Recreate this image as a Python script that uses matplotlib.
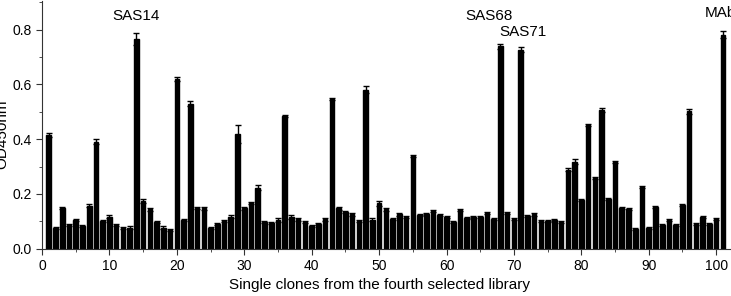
import matplotlib
matplotlib.use("Agg")
import matplotlib.pyplot as plt
import numpy as np
from matplotlib.ticker import MultipleLocator

plt.rcParams['font.family'] = ['Liberation Sans', 'DejaVu Sans']

clones = list(range(1, 102))
od450 = [0.415, 0.075, 0.147, 0.086, 0.105, 0.084, 0.157, 0.39, 0.10, 0.117,
         0.086, 0.075, 0.077, 0.765, 0.174, 0.143, 0.098, 0.077, 0.069, 0.62,
         0.105, 0.53, 0.147, 0.147, 0.074, 0.089, 0.10, 0.117, 0.418, 0.147,
         0.168, 0.222, 0.098, 0.095, 0.105, 0.485, 0.117, 0.107, 0.098, 0.083,
         0.089, 0.107, 0.548, 0.147, 0.133, 0.125, 0.10, 0.581, 0.106, 0.165,
         0.143, 0.108, 0.125, 0.117, 0.339, 0.123, 0.126, 0.137, 0.123, 0.117,
         0.097, 0.141, 0.113, 0.117, 0.117, 0.129, 0.108, 0.739, 0.129, 0.107,
         0.727, 0.119, 0.125, 0.102, 0.102, 0.105, 0.097, 0.289, 0.317, 0.177,
         0.453, 0.259, 0.506, 0.18, 0.317, 0.147, 0.145, 0.073, 0.224, 0.074,
         0.153, 0.086, 0.105, 0.086, 0.159, 0.502, 0.089, 0.117, 0.089, 0.108,
         0.782]
errors = [0.007, 0.004, 0.004, 0.004, 0.005, 0.004, 0.006, 0.009, 0.004, 0.005,
          0.004, 0.004, 0.004, 0.022, 0.007, 0.006, 0.004, 0.004, 0.004, 0.007,
          0.004, 0.008, 0.004, 0.005, 0.004, 0.004, 0.004, 0.005, 0.032, 0.005,
          0.004, 0.009, 0.004, 0.004, 0.006, 0.004, 0.007, 0.006, 0.004, 0.004,
          0.004, 0.006, 0.004, 0.006, 0.004, 0.004, 0.004, 0.012, 0.006, 0.009,
          0.006, 0.004, 0.004, 0.004, 0.004, 0.004, 0.004, 0.004, 0.004, 0.004,
          0.004, 0.004, 0.004, 0.004, 0.004, 0.004, 0.004, 0.009, 0.004, 0.004,
          0.009, 0.004, 0.004, 0.004, 0.004, 0.004, 0.004, 0.006, 0.009, 0.004,
          0.004, 0.004, 0.008, 0.004, 0.004, 0.004, 0.004, 0.004, 0.004, 0.004,
          0.004, 0.004, 0.005, 0.004, 0.005, 0.009, 0.004, 0.004, 0.004, 0.005,
          0.014]

annot_labels = ["SAS14", "SAS68", "SAS71", "MAb"]
annot_x = [14, 66.3, 71.4, 100.6]
annot_y = [0.85, 0.85, 0.79, 0.86]

fig = plt.figure(figsize=(7.31, 2.96), dpi=100)
ax = fig.add_axes([0.0575, 0.16, 0.9425, 0.837])

ax.bar(clones, od450, width=0.68, color='black', edgecolor='black',
       yerr=errors, error_kw=dict(ecolor='black', capsize=2.5, elinewidth=1, capthick=1))

ax.set_xlim(0, 102.2)
ax.set_ylim(0, 0.905)
ax.xaxis.set_major_locator(MultipleLocator(10))
ax.xaxis.set_minor_locator(MultipleLocator(5))
ax.yaxis.set_major_locator(MultipleLocator(0.2))
ax.yaxis.set_minor_locator(MultipleLocator(0.1))
ax.yaxis.set_major_formatter(matplotlib.ticker.FormatStrFormatter('%.1f'))

for s in ['top', 'right']:
    ax.spines[s].set_visible(False)
ax.spines['left'].set_color('#333333')
ax.spines['bottom'].set_color('#333333')
ax.tick_params(axis='both', which='major', direction='out', length=4, labelsize=10, colors='#333333', labelcolor='black')
ax.tick_params(axis='both', which='minor', direction='out', length=2, colors='#333333')

ax.set_xlabel("Single clones from the fourth selected library", fontsize=11)
ax.set_ylabel("OD450nm", fontsize=11)
ax.yaxis.set_label_coords(-0.047, 0.46)
ax.xaxis.set_label_coords(0.49, -0.12)

for lab, xx, yy in zip(annot_labels, annot_x, annot_y):
    ax.text(xx, yy, lab, ha='center', va='center', fontsize=11, clip_on=False)

fig.savefig("out.png", dpi=100)
